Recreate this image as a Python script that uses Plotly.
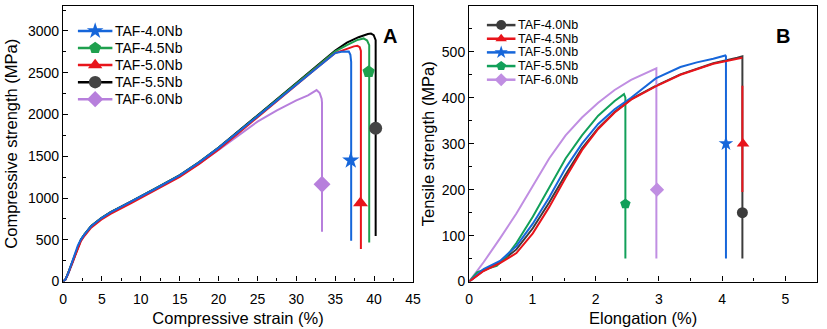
import plotly.graph_objects as go

W, H = 827, 329
FONT = "Liberation Sans"

# ---------------- Panel A data (compressive strain %, strength MPa) ----------------
a_names = ["TAF-4.0Nb", "TAF-4.5Nb", "TAF-5.0Nb", "TAF-5.5Nb", "TAF-6.0Nb"]
a_colors = ["#1666DA", "#1FA04E", "#E8141B", "#000000", "#B77FDC"]
a_marker_colors = ["#1666DA", "#1FA04E", "#E8141B", "#444444", "#B77FDC"]
a_symbols = ["star", "pentagon", "triangle-up", "circle", "diamond"]

a_strain = [0, 0.3, 0.63, 1.27, 1.9, 2.3, 2.75, 3.6, 4.9, 6.1, 8.7, 10, 12, 15, 17.5, 20, 22.5, 25, 27.5, 30, 32.5, 35]

a_x_40 = a_strain + [35.8, 36.4, 36.75, 36.95, 37.05, 37.05]
a_y_40 = [0, 25, 97, 255, 432, 505, 565, 662, 757, 827, 954, 1022, 1117, 1272, 1427, 1600, 1790, 1983, 2172, 2365, 2555, 2735,
          2750, 2757, 2754, 2715, 2630, 488]

a_x_45 = a_strain + [36.5, 37.8, 38.65, 39.1, 39.37, 39.37]
a_y_45 = [0, 25, 97, 253, 430, 505, 565, 662, 757, 828, 955, 1022, 1117, 1272, 1427, 1601, 1790, 1985, 2175, 2370, 2562, 2755,
          2830, 2890, 2910, 2885, 2830, 469]

a_x_50 = a_strain + [36.5, 37.4, 37.85, 38.15, 38.3, 38.3]
a_y_50 = [0, 25, 95, 245, 415, 487, 548, 645, 740, 810, 935, 1002, 1097, 1252, 1407, 1582, 1772, 1968, 2160, 2355, 2548, 2735,
          2790, 2815, 2822, 2805, 2760, 390]

a_x_55 = a_strain + [36.5, 38.0, 39.2, 39.6, 39.95, 40.2, 40.2]
a_y_55 = [0, 25, 97, 253, 429, 505, 566, 665, 760, 830, 957, 1025, 1120, 1275, 1430, 1605, 1795, 1990, 2180, 2375, 2570, 2765,
          2860, 2925, 2962, 2968, 2950, 2890, 546]

a_x_60 = [0, 0.3, 0.63, 1.27, 1.9, 2.3, 2.75, 3.6, 4.9, 6.1, 8.7, 10, 12, 15, 17.5, 20, 22.5, 25, 27.5, 30, 31.5, 32.6, 33.0, 33.25, 33.3, 33.3]
a_y_60 = [0, 20, 85, 235, 415, 493, 555, 655, 752, 822, 948, 1015, 1110, 1262, 1410, 1575, 1745, 1915, 2050, 2168, 2228, 2292, 2255, 2190, 2140, 595]

a_mark_x = [37.0, 39.3, 38.25, 40.2, 33.3]
a_mark_y = [1450, 2510, 940, 1835, 1165]

# ---------------- Panel B data (elongation %, tensile strength MPa) ----------------
b_names = ["TAF-4.0Nb", "TAF-4.5Nb", "TAF-5.0Nb", "TAF-5.5Nb", "TAF-6.0Nb"]
b_colors = ["#3C3C3C", "#E8141B", "#1666DA", "#12A05A", "#C08EE2"]
b_symbols = ["circle", "triangle-up", "star", "pentagon", "diamond"]

b_x_40 = [0, 0.228, 0.488, 0.747, 1.006, 1.265, 1.525, 1.784, 2.04, 2.30, 2.56, 2.95, 3.34, 3.86, 4.24, 4.32, 4.32]
b_y_40 = [0, 24, 42, 70, 116, 172, 233, 290, 334, 369, 397, 426, 451, 475, 487, 490, 50]

b_x_45 = [0, 0.228, 0.488, 0.747, 1.006, 1.265, 1.525, 1.784, 2.04, 2.30, 2.56, 2.95, 3.34, 3.86, 4.24, 4.32, None, 4.32, 4.32]
b_y_45 = [0, 23, 40, 62, 105, 162, 226, 286, 332, 368, 396, 425, 450, 474, 485, 487, None, 426, 195]

b_x_50 = [0, 0.228, 0.488, 0.747, 1.006, 1.265, 1.525, 1.784, 2.04, 2.30, 2.56, 2.95, 3.34, 3.6, 3.86, 4.0, 4.05, 4.06, 4.06]
b_y_50 = [0, 27, 45, 77, 126, 183, 247, 300, 343, 375, 400, 442, 467, 477, 485, 491, 492, 490, 50]

b_x_55 = [0, 0.124, 0.28, 0.436, 0.591, 0.747, 1.006, 1.265, 1.525, 1.784, 2.04, 2.30, 2.448, 2.47, 2.47]
b_y_55 = [0, 20, 28, 34, 55, 84, 141, 204, 268, 318, 361, 393, 408, 400, 50]

b_x_60 = [0, 0.228, 0.488, 0.747, 1.006, 1.265, 1.525, 1.784, 2.04, 2.30, 2.56, 2.95, 2.96, 2.96]
b_y_60 = [0, 42, 94, 148, 208, 268, 318, 357, 389, 417, 439, 464, 464, 50]

b_mark_x = [4.32, 4.33, 4.06, 2.47, 2.97]
b_mark_y = [150, 300, 300, 169, 200]

a_series = [(a_x_40, a_y_40), (a_x_45, a_y_45), (a_x_50, a_y_50), (a_x_55, a_y_55), (a_x_60, a_y_60)]
b_series = [(b_x_40, b_y_40), (b_x_45, b_y_45), (b_x_50, b_y_50), (b_x_55, b_y_55), (b_x_60, b_y_60)]

fig = go.Figure()

a_order = [4, 3, 1, 2, 0]
for i in a_order:
    x, y = a_series[i]
    fig.add_trace(go.Scatter(x=x, y=y, mode="lines", line=dict(color=a_colors[i], width=2),
                             xaxis="x", yaxis="y", showlegend=False, hoverinfo="skip"))
for i in range(5):
    fig.add_trace(go.Scatter(x=[a_mark_x[i]], y=[a_mark_y[i]], mode="markers",
                             marker=dict(symbol=a_symbols[i], color=a_marker_colors[i], size=13,
                                         line=dict(width=0)),
                             xaxis="x", yaxis="y", showlegend=False, hoverinfo="skip"))

b_order = [0, 4, 3, 2, 1]
for i in b_order:
    x, y = b_series[i]
    fig.add_trace(go.Scatter(x=x, y=y, mode="lines", line=dict(color=b_colors[i], width=2),
                             xaxis="x2", yaxis="y2", showlegend=False, hoverinfo="skip",
                             connectgaps=False))
for i in range(5):
    fig.add_trace(go.Scatter(x=[b_mark_x[i]], y=[b_mark_y[i]], mode="markers",
                             marker=dict(symbol=b_symbols[i], color=b_colors[i], size=11,
                                         line=dict(width=0)),
                             xaxis="x2", yaxis="y2", showlegend=False, hoverinfo="skip"))

# ---------------- custom legends on an overlay pixel axis ----------------
annotations = []
def add_legend(names, colors, mcolors, symbols, x0, x1, xt, y0, step, fsize, msize):
    for k in range(len(names)):
        yy = y0 + k * step
        fig.add_trace(go.Scatter(x=[x0, x1], y=[yy, yy], mode="lines",
                                 line=dict(color=colors[k], width=2.5),
                                 xaxis="x3", yaxis="y3", showlegend=False, hoverinfo="skip"))
        fig.add_trace(go.Scatter(x=[(x0 + x1) / 2], y=[yy], mode="markers",
                                 marker=dict(symbol=symbols[k], color=mcolors[k], size=msize,
                                             line=dict(width=0)),
                                 xaxis="x3", yaxis="y3", showlegend=False, hoverinfo="skip"))
        annotations.append(dict(x=xt / W, y=1 - yy / H, xref="paper", yref="paper",
                                text=names[k], showarrow=False, xanchor="left", yanchor="middle",
                                font=dict(family=FONT, size=fsize, color="black")))

add_legend(a_names, a_colors, a_marker_colors, a_symbols, 75, 110, 111, 31.7, 17.5, 14, 12.5)
add_legend(b_names, b_colors, b_colors, b_symbols, 490, 519, 520, 25.7, 14.0, 12.5, 10)

annotations.append(dict(x=392 / W, y=1 - 24 / H, xref="paper", yref="paper", text="<b>A</b>",
                        showarrow=False, font=dict(family=FONT, size=20, color="black")))
annotations.append(dict(x=800 / W, y=1 - 24 / H, xref="paper", yref="paper", text="<b>B</b>",
                        showarrow=False, font=dict(family=FONT, size=20, color="black")))

ybot = 1 - 288.6 / H
ytop = 1 - 6 / H

def axis_common(**kw):
    d = dict(showline=True, mirror=True, linecolor="black", linewidth=1.3,
             ticks="inside", ticklen=5, tickwidth=1.3, tickcolor="black",
             showgrid=False, zeroline=False,
             tickfont=dict(family=FONT, size=14, color="black"))
    d.update(kw)
    return d

fig.update_layout(
    width=W, height=H, margin=dict(l=0, r=0, t=0, b=0),
    paper_bgcolor="white", plot_bgcolor="rgba(0,0,0,0)", showlegend=False,
    font=dict(family=FONT, color="black"),
    xaxis=axis_common(domain=[60 / W, 415 / W], range=[0, 45], dtick=5, anchor="y", ticklabelstandoff=4,
                      minor=dict(ticks="inside", ticklen=3, dtick=2.5, tickcolor="black", tickwidth=1.2),
                      title=dict(text="Compressive strain (%)", font=dict(family=FONT, size=16.5), standoff=6)),
    yaxis=axis_common(domain=[ybot, ytop], range=[0, 3300], dtick=500, anchor="x",
                      minor=dict(ticks="inside", ticklen=3, dtick=250, tickcolor="black", tickwidth=1.2),
                      title=dict(text="Compressive strength (MPa)", font=dict(family=FONT, size=16.5), standoff=6)),
    xaxis2=axis_common(domain=[472 / W, 825 / W], range=[0, 5.5], dtick=1, anchor="y2", ticklabelstandoff=4,
                       minor=dict(ticks="inside", ticklen=3, dtick=0.5, tickcolor="black", tickwidth=1.2),
                       title=dict(text="Elongation (%)", font=dict(family=FONT, size=16.5), standoff=6)),
    yaxis2=axis_common(domain=[ybot, ytop], range=[0, 600], dtick=100, anchor="x2",
                       minor=dict(ticks="inside", ticklen=3, dtick=50, tickcolor="black", tickwidth=1.2),
                       title=dict(text="Tensile strength (MPa)", font=dict(family=FONT, size=16.5), standoff=3)),
    xaxis3=dict(domain=[0, 1], range=[0, W], visible=False, fixedrange=True, anchor="y3"),
    yaxis3=dict(domain=[0, 1], range=[H, 0], visible=False, fixedrange=True, anchor="x3"),
    annotations=annotations,
)

fig.write_html("out.html")
